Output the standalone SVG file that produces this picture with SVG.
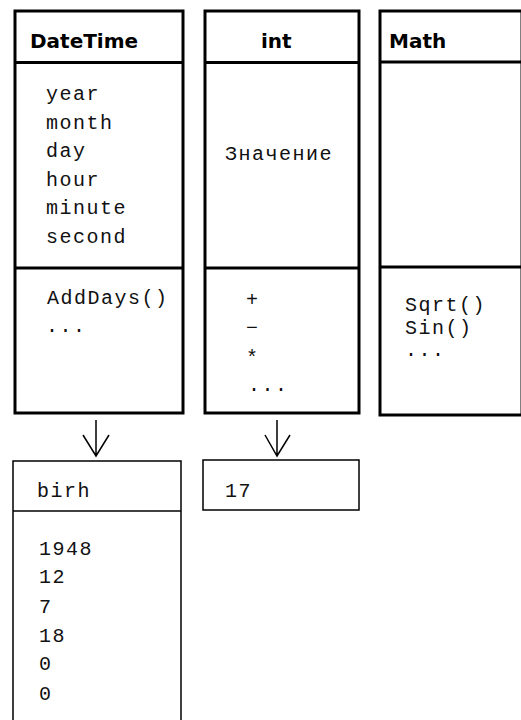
<svg xmlns="http://www.w3.org/2000/svg" width="521" height="720" viewBox="0 0 521 720">
<style>
.cls{fill:#fff;stroke:#000;stroke-width:3}
.obj{fill:#fff;stroke:#000;stroke-width:1.5}
.hd{font-family:"DejaVu Sans",sans-serif;font-weight:bold;font-size:20px;fill:#000}
.mono{font-family:"Liberation Mono","Courier New",monospace;font-size:20px;letter-spacing:1.5px;fill:#111}
.conn{stroke:#000;stroke-width:1.5;fill:none}
</style>
<rect width="521" height="720" fill="#fff"/>
<g id="DateTime">
<rect class="cls" x="15" y="11" width="168" height="402"/>
<line class="cls" x1="15" y1="62.5" x2="183" y2="62.5"/>
<line class="cls" x1="15" y1="268" x2="183" y2="268"/>
<text class="hd" x="30" y="48">DateTime</text>
<text class="mono" x="46" y="100">year</text>
<text class="mono" x="46" y="129">month</text>
<text class="mono" x="46" y="157">day</text>
<text class="mono" x="46" y="186">hour</text>
<text class="mono" x="46" y="214">minute</text>
<text class="mono" x="46" y="243">second</text>
<text class="mono" x="47" y="304">AddDays()</text>
<text class="mono" x="46" y="332">...</text>
</g>
<g id="int">
<rect class="cls" x="205" y="11" width="154" height="402"/>
<line class="cls" x1="205" y1="62.5" x2="359" y2="62.5"/>
<line class="cls" x1="205" y1="268" x2="359" y2="268"/>
<text class="hd" x="261" y="48">int</text>
<text class="mono" x="225" y="160">Значение</text>
<text class="mono" x="246" y="306">+</text>
<text class="mono" x="246" y="334">−</text>
<text class="mono" x="246" y="364">*</text>
<text class="mono" x="248" y="391">...</text>
</g>
<g id="Math">
<rect class="cls" x="380" y="11" width="142" height="404"/>
<line class="cls" x1="380" y1="62" x2="522" y2="62"/>
<line class="cls" x1="380" y1="267" x2="522" y2="267"/>
<text class="hd" x="389" y="48">Math</text>
<text class="mono" x="405" y="311">Sqrt()</text>
<text class="mono" x="405" y="334">Sin()</text>
<text class="mono" x="405" y="356">...</text>
</g>
<g id="birh">
<rect class="obj" x="13" y="461" width="168" height="270"/>
<line class="obj" x1="13" y1="511" x2="181" y2="511"/>
<text class="mono" x="37" y="497">birh</text>
<text class="mono" x="39" y="555">1948</text>
<text class="mono" x="39" y="583">12</text>
<text class="mono" x="39" y="613">7</text>
<text class="mono" x="39" y="642">18</text>
<text class="mono" x="39" y="670">0</text>
<text class="mono" x="39" y="700">0</text>
</g>
<g id="v17">
<rect class="obj" x="203" y="460" width="156" height="50"/>
<text class="mono" x="225" y="497">17</text>
</g>
<g id="connectors">
<path class="conn" d="M96 420V456M83 435L96 456L109 435"/>
<path class="conn" d="M277 420V456M265 435L277 456L290 435"/>
</g>
</svg>
